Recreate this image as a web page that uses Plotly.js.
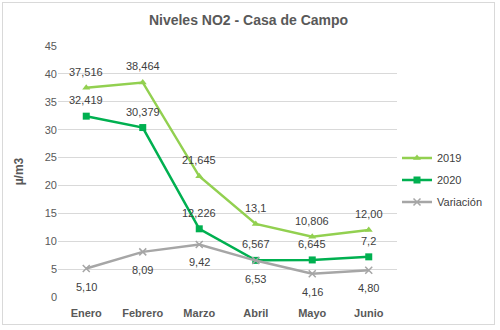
<!DOCTYPE html>
<html><head><meta charset="utf-8">
<script src="https://cdn.plot.ly/plotly-3.0.1.min.js"></script>
<style>html,body{margin:0;padding:0;background:#fff}#c{width:500px;height:330px}
#f{position:absolute;left:2px;top:2px;width:493px;height:323px;border:1px solid #d9d9d9;pointer-events:none;box-sizing:border-box}</style>
</head><body><div id="c"></div><div id="f"></div>
<script>
const months = ["Enero","Febrero","Marzo","Abril","Mayo","Junio"];
const v2019 = [37.516,38.464,21.645,13.1,10.806,12.00];
const v2020 = [32.419,30.379,12.226,6.567,6.645,7.2];
const vVar = [5.10,8.09,9.42,6.53,4.16,4.80];
const t2019 = ["37,516","38,464","21,645","13,1","10,806","12,00"];
const t2020 = ["32,419","30,379","12,226","6,567","6,645","7,2"];
const tVar = ["5,10","8,09","9,42","6,53","4,16","4,80"];
const yTicks = [0,5,10,15,20,25,30,35,40,45];

const FF = "Liberation Sans, Arial, sans-serif";
const traces = [
 {x:months,y:v2019,name:"2019",legendgroup:"a",mode:"lines+markers",
  line:{color:"#92D050",width:2.5},marker:{symbol:"triangle-up",size:7,color:"#92D050"}},
 {x:months,y:v2020,name:"2020",legendgroup:"b",mode:"lines+markers",
  line:{color:"#00B050",width:2.5},marker:{symbol:"square",size:7,color:"#00B050"}},
 {x:months,y:vVar,name:"Variación",legendgroup:"c",mode:"lines+markers",
  line:{color:"#A6A6A6",width:2.5},marker:{symbol:"x-thin",size:7,line:{color:"#A6A6A6",width:1.5},color:"#A6A6A6"}}
];
const annotations = [];
function addLabels(vals, texts, shift){
  vals.forEach((v,i)=>annotations.push({x:months[i],y:v,text:texts[i],showarrow:false,yshift:shift,
    font:{family:FF,size:11,color:"#404040"}}));
}
addLabels(v2019,t2019,16);
addLabels(v2020,t2020,16);
addLabels(vVar,tVar,-18);
const layout = {
 width:500,height:330,margin:{l:58,r:103,t:46,b:33},
 paper_bgcolor:"#fff",plot_bgcolor:"#fff",
 title:{text:"<b>Niveles NO2 - Casa de Campo</b>",x:0.497,xanchor:"center",y:0.94,yanchor:"middle",
   font:{family:FF,size:14,color:"#595959"}},
 xaxis:{type:"category",showgrid:false,zeroline:false,showline:false,ticks:"",ticklabelstandoff:8,
   tickfont:{family:FF,size:11,color:"#595959",weight:"bold"},range:[-0.5,5.5]},
 yaxis:{range:[0,45],tickvals:yTicks,showgrid:true,gridcolor:"#d9d9d9",gridwidth:1,zeroline:false,
   tickfont:{family:FF,size:11,color:"#595959"},ticks:"",
   title:{text:"<b>µ/m3</b>",standoff:18,font:{family:FF,size:12,color:"#595959"}}},
 legend:{x:1.0,xanchor:"left",y:0.466,yanchor:"middle",font:{family:FF,size:11,color:"#404040"},
   itemwidth:30,tracegroupgap:3},
 annotations:annotations,
 showlegend:true
};
Plotly.newPlot("c",traces,layout,{displayModeBar:false,staticPlot:true});
</script></body></html>
